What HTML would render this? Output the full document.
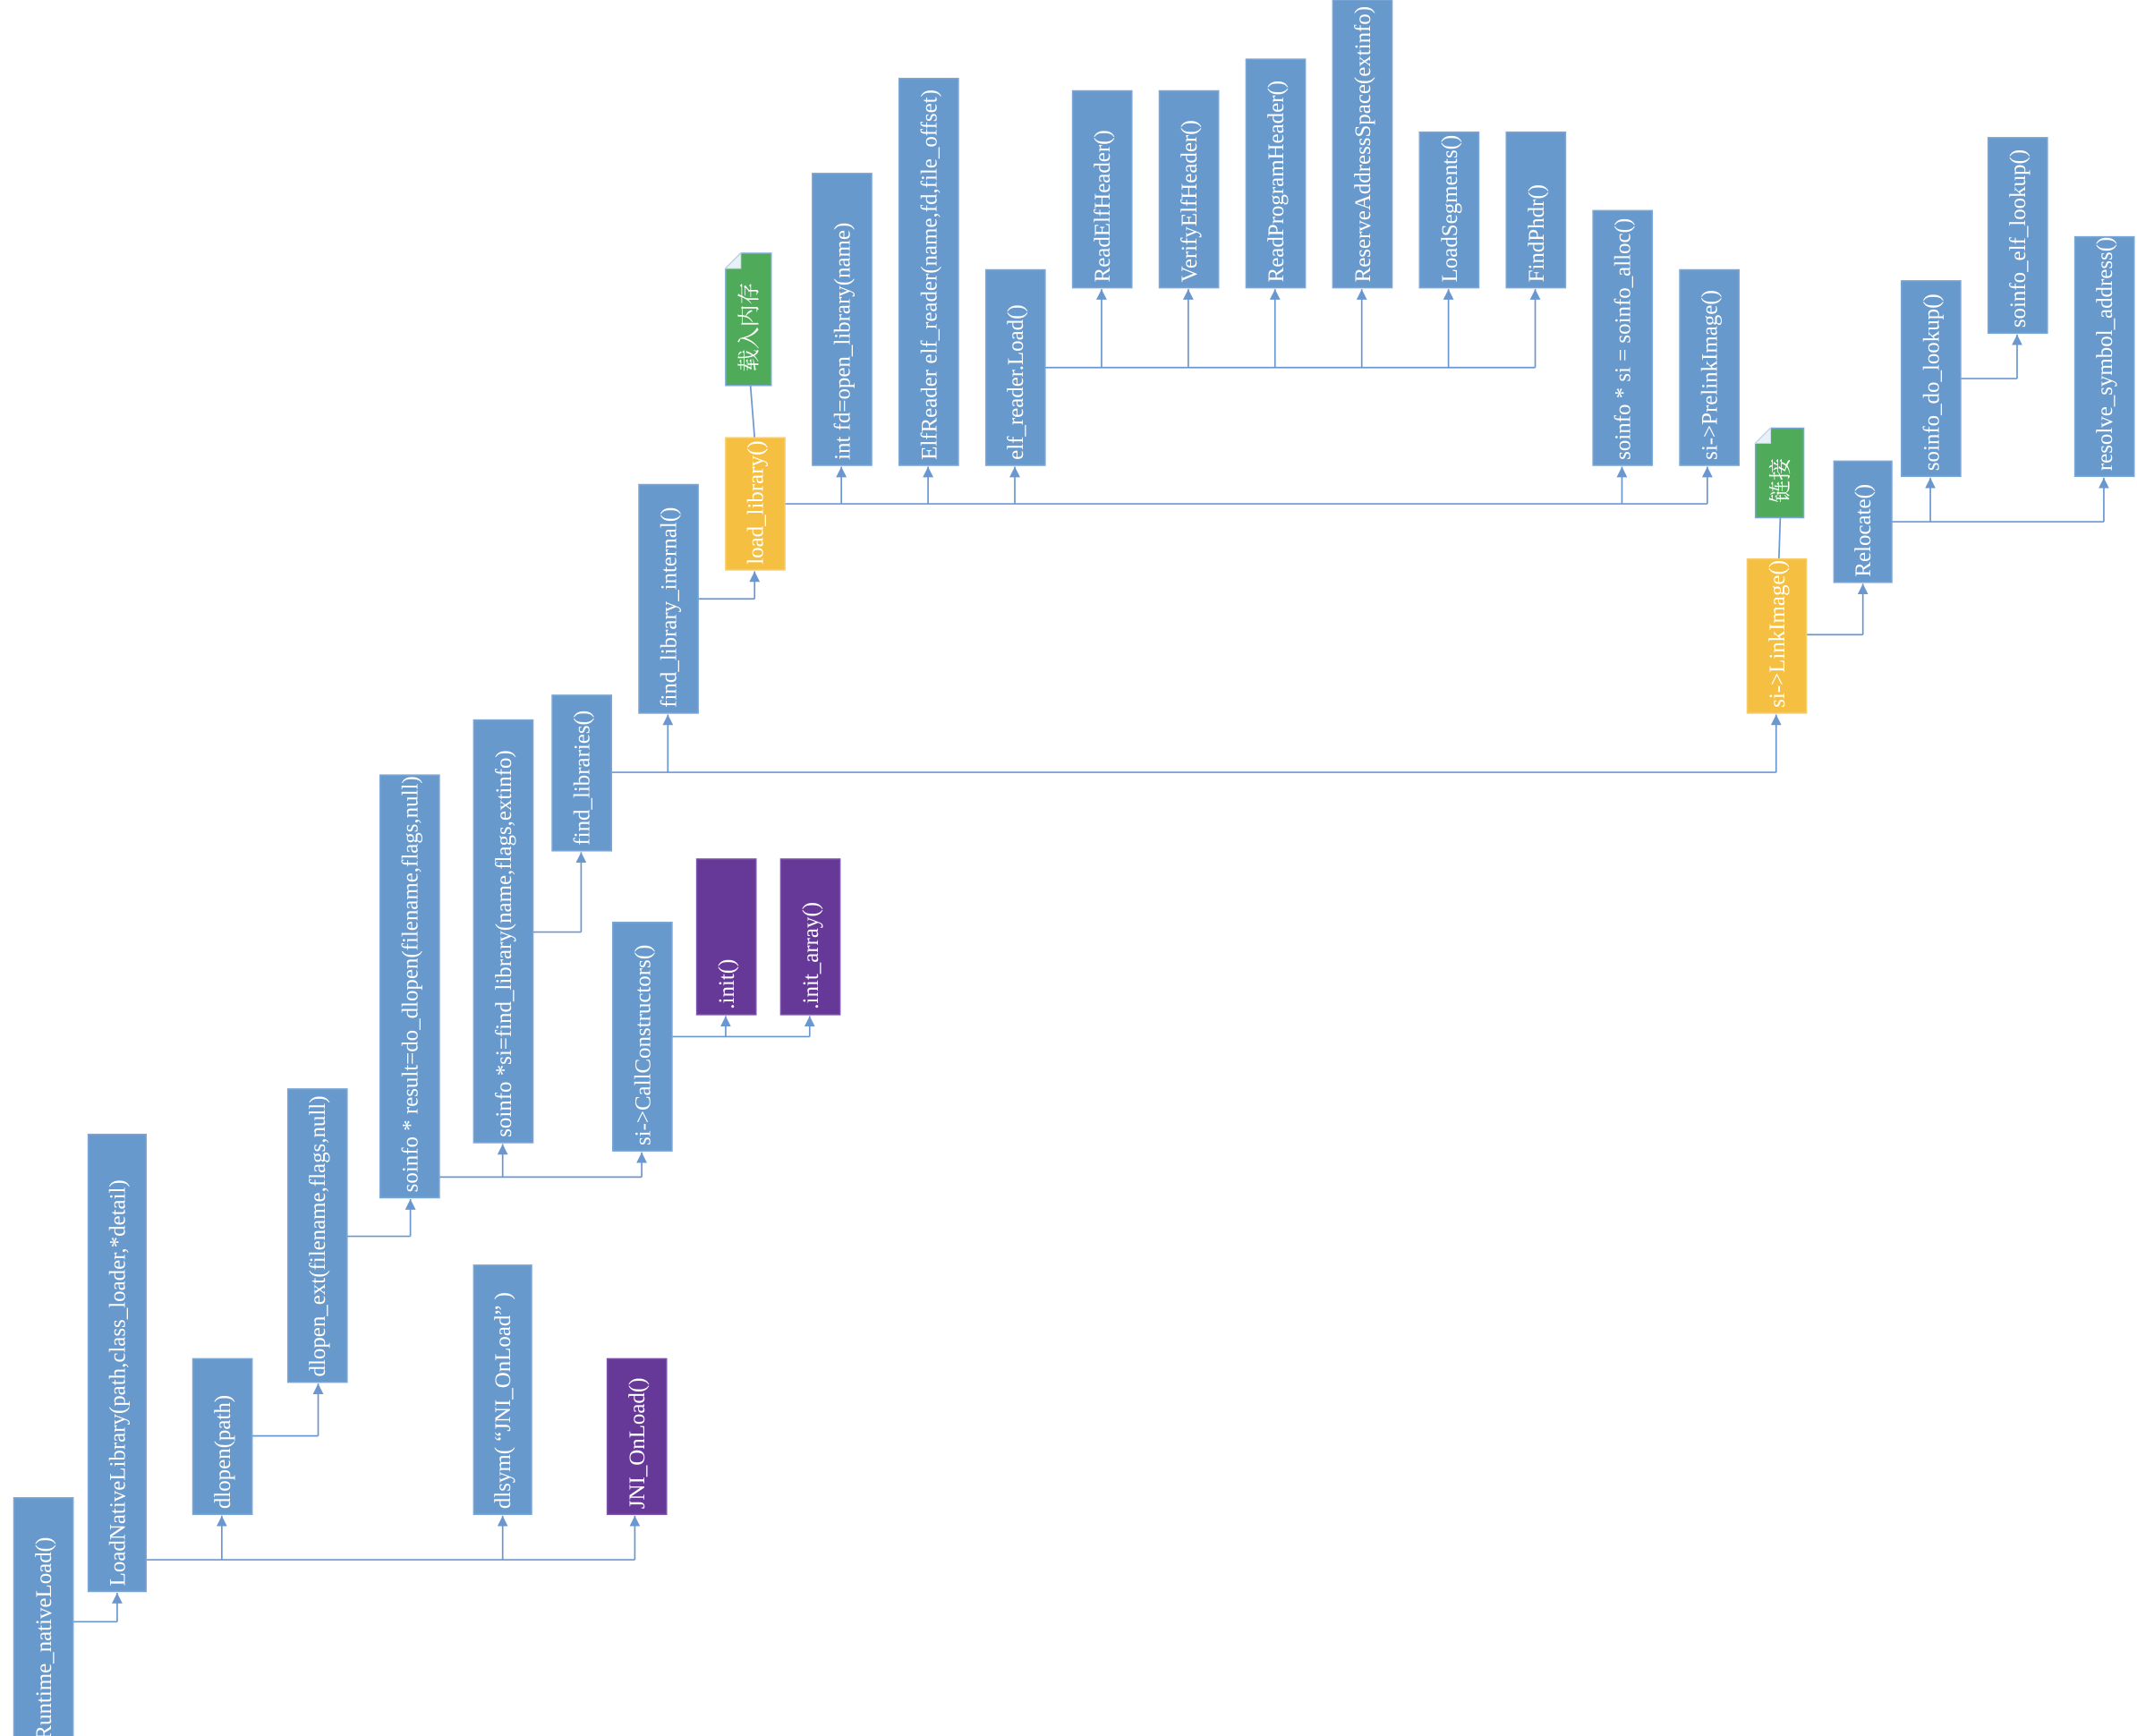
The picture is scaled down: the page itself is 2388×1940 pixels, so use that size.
<!DOCTYPE html>
<html><head><meta charset="utf-8">
<style>
html,body{margin:0;padding:0;background:#fff;}
svg{display:block;}
text{font-family:"Liberation Serif","Noto Serif CJK SC",serif;fill:#fff;font-size:16.2px;}
.b{fill:#6899cd;stroke:#7aa6d6;stroke-width:1;}
.y{fill:#f5bf42;stroke:#f7cd6a;stroke-width:1;}
.p{fill:#663898;stroke:#7a52a8;stroke-width:1;}
.g{fill:#4fab5a;stroke:#7aa6d6;stroke-width:1;}
.l{fill:none;stroke:#6a97cf;stroke-width:1.1;}
</style></head><body>
<svg width="2388" height="1940" viewBox="0 0 1552 1261" xmlns="http://www.w3.org/2000/svg">
<defs><marker id="a" viewBox="0 0 10 10" refX="10" refY="5" markerWidth="7" markerHeight="7" orient="auto"><path d="M0,0L10,5L0,10Z" fill="#6a97cf"/></marker></defs>
<g id="lines"></g>
<g id="nodes"></g>
</svg>
<script>
const nodes=[
["runtime-native-load",10,1088,43,180,"b","Runtime_nativeLoad()"],
["load-native-library",64,824,42,332,"b","LoadNativeLibrary(path,class_loader,*detail)"],
["dlopen",140,987,43,113,"b","dlopen(path)"],
["dlopen-ext",209,791,43,213,"b","dlopen_ext(filename,flags,null)"],
["do-dlopen",276,563,43,307,"b","soinfo * result=do_dlopen(filename,flags,null)"],
["find-library",344,523,43,307,"b","soinfo *si=find_library(name,flags,extinfo)"],
["find-libraries",401,505,43,113,"b","find_libraries()"],
["find-library-internal",464,352,43,166,"b","find_library_internal()"],
["load-library",527,318,43,96,"y","load_library()"],
["open-library",590,126,43,212,"b","int fd=open_library(name)"],
["elf-reader",653,57,43,281,"b","ElfReader elf_reader(name,fd,file_offset)"],
["elf-reader-load",716,196,43,142,"b","elf_reader.Load()"],
["read-elf-header",779,66,43,143,"b","ReadElfHeader()"],
["verify-elf-header",842,66,43,143,"b","VerifyElfHeader()"],
["read-program-header",905,43,43,166,"b","ReadProgramHeader()"],
["reserve-address-space",968,0,43,209,"b","ReserveAddressSpace(extinfo)"],
["load-segments",1031,96,43,113,"b","LoadSegments()"],
["find-phdr",1094,96,43,113,"b","FindPhdr()"],
["soinfo-alloc",1157,153,43,185,"b","soinfo * si = soinfo_alloc()"],
["prelink-image",1220,196,43,142,"b","si->PrelinkImage()"],
["link-image",1269,406,43,112,"y","si->LinkImage()"],
["relocate",1332,335,42,88,"b","Relocate()"],
["soinfo-do-lookup",1381,204,43,142,"b","soinfo_do_lookup()"],
["soinfo-elf-lookup",1444,100,43,142,"b","soinfo_elf_lookup()"],
["resolve-symbol-address",1507,172,43,174,"b","resolve_symbol_address()"],
["dlsym",344,919,42,181,"b","dlsym( “JNI_OnLoad” )"],
["jni-onload",441,987,43,113,"p","JNI_OnLoad()"],
["call-constructors",445,670,43,166,"b","si->CallConstructors()"],
["init",506,624,43,113,"p",".init()"],
["init-array",567,624,43,113,"p",".init_array()"]
];
const notes=[["note-load-memory",527,184,33,96,"载入内存"],["note-link",1275,311,35,65,"链接"]];
const buses=[
["c1",1178,53,85,[[85,1156]]],
["c2",1133,106,461,[[161,1100],[365,1100],[461,1100]]],
["c3",1043,183,231,[[231,1004]]],
["c4",898,252,298,[[298,870]]],
["c5",855,319,466,[[365,830],[466,836]]],
["c6",677,387,422,[[422,618]]],
["c7",561,444,1290,[[485,518],[1290,518]]],
["c8",435,507,548,[[548,414]]],
["c9",366,570,1240,[[611,338],[674,338],[737,338],[1178,338],[1240,338]]],
["c10",267,759,1115,[[800,209],[863,209],[926,209],[989,209],[1052,209],[1115,209]]],
["c11",461,1312,1353,[[1353,423]]],
["c12",379,1374,1528,[[1402,346],[1528,346]]],
["c13",275,1424,1465,[[1465,242]]],
["c14",753,488,588,[[527,737],[588,737]]]
];
const NS="http://www.w3.org/2000/svg";
const L=document.getElementById('lines'),N=document.getElementById('nodes');
function mk(t,at){const e=document.createElementNS(NS,t);for(const k in at)e.setAttribute(k,at[k]);return e;}
buses.forEach(b=>{
 const h=mk('path',{d:`M${b[2]},${b[1]}H${b[3]}`,class:'l'});
 
 
 L.appendChild(h);
 b[4].forEach(p=>{
  const v=mk('path',{d:`M${p[0]},${b[1]}V${p[1]+1}`,class:'l','marker-end':'url(#a)'});
  
  
  L.appendChild(v);
 });
});
[[545,280,548,318],[1293,376,1292,406]].forEach(s=>{
 const v=mk('path',{d:`M${s[0]},${s[1]}L${s[2]},${s[3]}`,class:'l'});
 
 
 L.appendChild(v);
});
nodes.forEach(n=>{
 const g=mk('g',{});
 
 
 g.appendChild(mk('rect',{x:n[1],y:n[2],width:n[3],height:n[4],class:n[5]}));
 const tx=n[1]+n[3]/2+5.5,ty=n[2]+n[4]-4;
 const t=mk('text',{x:tx,y:ty,transform:`rotate(-90 ${tx} ${ty})`});
 t.textContent=n[6];
 
 
 g.appendChild(t);
 N.appendChild(g);
});
notes.forEach(n=>{
 const [nm,x,y,w,h,s]=n,c=11;
 const g=mk('g',{});
 
 
 g.appendChild(mk('path',{d:`M${x+c},${y}H${x+w}V${y+h}H${x}V${y+c}Z`,class:'g'}));
 g.appendChild(mk('path',{d:`M${x},${y+c}L${x+c},${y}V${y+c}Z`,fill:'#e8f0f8',stroke:'#c9d9ec','stroke-width':0.6}));
 const tx=x+w/2+6,ty=y+c/2+h/2;
 const t=mk('text',{x:tx,y:ty,transform:`rotate(-90 ${tx} ${ty})`,'text-anchor':'middle'});
 t.textContent=s;
 
 
 g.appendChild(t);
 N.appendChild(g);
});
</script>
</body></html>
